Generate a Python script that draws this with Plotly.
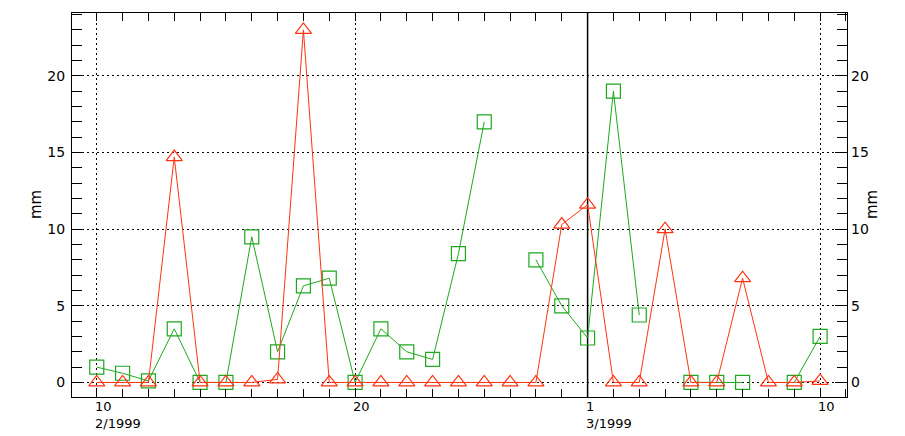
import datetime as dt
import plotly.graph_objects as go

# ---- data ----
start = dt.date(1999, 2, 10)
dates = [start + dt.timedelta(days=i) for i in range(29)]  # Feb 10 .. Mar 10

red_vals = [0, 0, 0, 14.7, 0, 0, 0, 0.2, 23.0, 0,
            0, 0, 0, 0, 0, 0, 0, 0, 10.3, 11.6,
            0, 0, 10.0, 0, 0, 6.8, 0, 0, 0.1]
green_vals = [1.0, 0.6, 0.1, 3.5, 0, 0, 9.5, 2.0, 6.3, 6.8,
              0, 3.5, 2.0, 1.5, 8.4, 17.0, None, 8.0, 5.0, 2.9,
              19.0, 4.4, None, 0, 0, 0, None, 0, 3.0]

tick_dates = [dt.date(1999, 2, 10), dt.date(1999, 2, 20), dt.date(1999, 3, 1), dt.date(1999, 3, 10)]
tick_days = ["10", "20", "1", "10"]
tick_months = ["2/1999", "", "3/1999", ""]
month_boundary = dt.date(1999, 3, 1)
y_unit = "mm"

RED = "#ff3311"
GREEN = "#1fa81f"
FONT = "DejaVu Sans"

fig = go.Figure()
fig.add_trace(go.Scatter(
    x=dates, y=green_vals, mode="lines+markers", connectgaps=False,
    line=dict(color=GREEN, width=1),
    marker=dict(symbol="square-open", size=14, color=GREEN, line=dict(width=1.2, color=GREEN)),
    showlegend=False, hoverinfo="skip"))
fig.add_trace(go.Scatter(
    x=dates, y=red_vals, mode="lines+markers",
    line=dict(color=RED, width=1),
    marker=dict(symbol="triangle-up-open", size=14, color=RED, line=dict(width=1.2, color=RED)),
    showlegend=False, hoverinfo="skip"))
# invisible trace so the right axis is drawn
fig.add_trace(go.Scatter(x=dates, y=red_vals, yaxis="y2", mode="lines",
                         line=dict(width=0), opacity=0, showlegend=False, hoverinfo="skip"))

x0 = dt.datetime(1999, 2, 9, 1, 0)
x1 = dt.datetime(1999, 3, 11, 1, 0)

fig.update_layout(
    width=905, height=436,
    margin=dict(l=72, r=58, t=13, b=39),
    paper_bgcolor="white", plot_bgcolor="white",
    font=dict(family=FONT, size=14, color="black"),
    xaxis=dict(
        type="date", range=[x0, x1],
        tickmode="array", tickvals=tick_dates, showticklabels=False,
        ticks="inside", ticklen=8, tickcolor="black", tickwidth=1,
        showline=True, linecolor="black", linewidth=1, mirror="allticks",
        showgrid=True, gridcolor="black", gridwidth=1, griddash="2px,3px",
        zeroline=False,
        minor=dict(dtick=86400000, tick0="1999-02-09", ticks="inside", ticklen=4,
                   tickcolor="black", showgrid=False),
    ),
    yaxis=dict(
        range=[-0.95, 24.1], tickmode="linear", tick0=0, dtick=5,
        ticks="inside", ticklen=12, tickcolor="black", tickwidth=1,
        showline=True, linecolor="black", linewidth=1, mirror=True,
        showgrid=True, gridcolor="black", gridwidth=1, griddash="2px,3px",
        zeroline=False, ticklabelstandoff=3,
        minor=dict(dtick=1, tick0=0, ticks="inside", ticklen=10, tickcolor="black", showgrid=False),
    ),
    yaxis2=dict(
        overlaying="y", side="right", matches="y",
        range=[-0.95, 24.1], tickmode="linear", tick0=0, dtick=5,
        ticks="inside", ticklen=12, tickcolor="black", tickwidth=1,
        showline=False, showgrid=False, zeroline=False, ticklabelstandoff=3,
        minor=dict(dtick=1, tick0=0, ticks="inside", ticklen=10, tickcolor="black", showgrid=False),
    ),
)

# solid month boundary line
fig.add_shape(type="line", xref="x", yref="paper", x0=month_boundary, x1=month_boundary,
              y0=0, y1=1, line=dict(color="black", width=1.5), layer="below")

# x tick labels (left aligned at the tick, IDL style)
for d, day, mon in zip(tick_dates, tick_days, tick_months):
    text = day + ("<br>" + mon if mon else "")
    fig.add_annotation(x=d, y=0, xref="x", yref="paper", text=text, showarrow=False,
                       xanchor="left", yanchor="top", align="left", yshift=-1, xshift=-3,
                       borderpad=0,
                       font=dict(family=FONT, size=13, color="black"))

# y axis titles
fig.add_annotation(x=0, y=0.5, xref="paper", yref="paper", text=y_unit, textangle=-90,
                   showarrow=False, xshift=-47, font=dict(family=FONT, size=15, color="black"))
fig.add_annotation(x=1, y=0.5, xref="paper", yref="paper", text=y_unit, textangle=-90,
                   showarrow=False, xshift=36, font=dict(family=FONT, size=15, color="black"))

fig.write_html("out.html", config={"displayModeBar": False},
               post_script="document.body.style.margin='0px';")
